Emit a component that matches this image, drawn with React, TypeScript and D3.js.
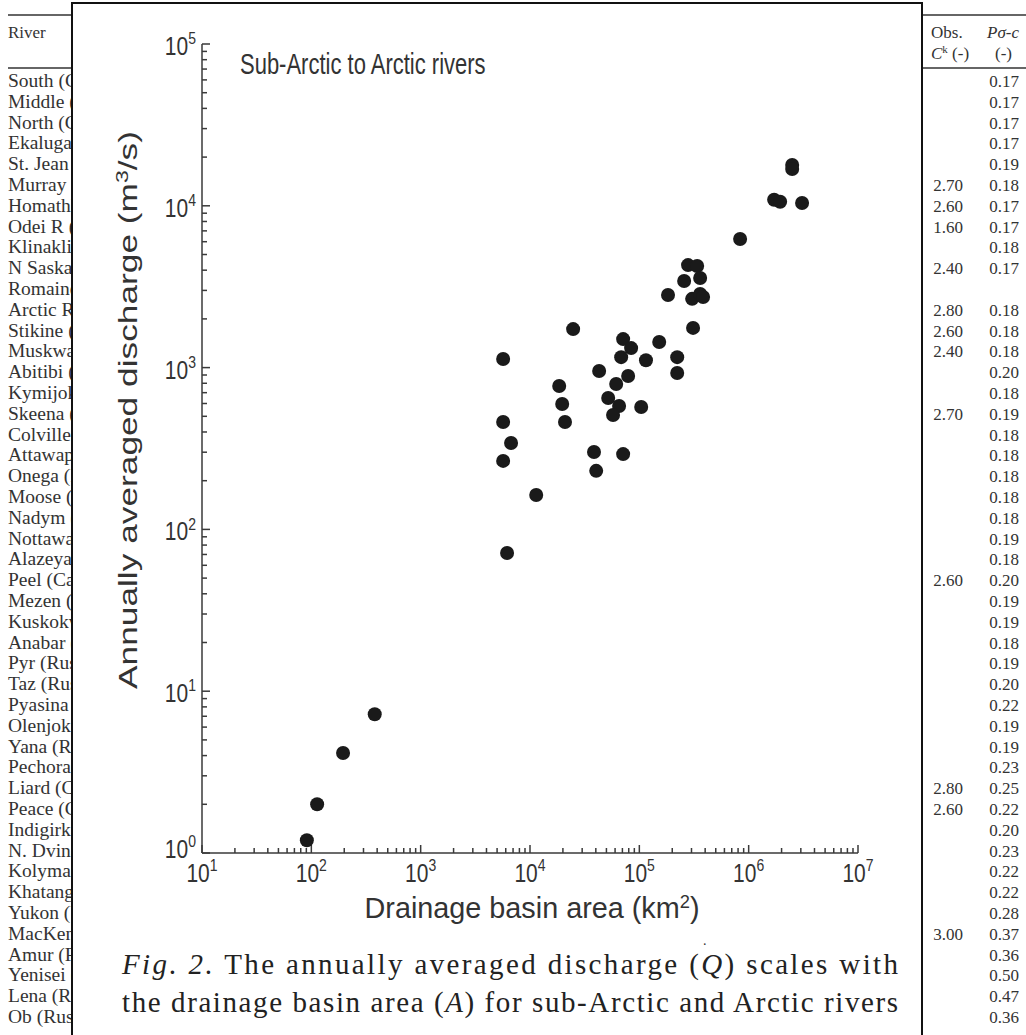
import React from "react";
import * as d3 from "d3";

// basin area (km2) and mean discharge (m3/s)
const basinArea = [
  2.5e6, 2.5e6, 1.71e6, 1.94e6, 3.08e6, 8.35e5, 2.79e5, 3.38e5, 2.57e5, 3.6e5,
  1.83e5, 3.04e5, 3.6e5, 3.83e5, 2.48e4, 3.1e5, 7.11e4, 8.41e4, 1.52e5, 5680,
  6.82e4, 1.15e5, 2.22e5, 4.29e4, 7.9e4, 2.22e5, 1.85e4, 6.14e4, 5.19e4, 6.53e4,
  1.97e4, 1.04e5, 5.75e4, 5680, 2.09e4, 6710, 3.85e4, 7.11e4, 5680, 4.03e4,
  1.14e4, 6170, 380, 195, 113, 91,
];
const discharge = [
  17900, 16900, 10900, 10600, 10400, 6240, 4300, 4250, 3430, 3580,
  2810, 2660, 2850, 2730, 1730, 1760, 1500, 1320, 1440, 1130,
  1160, 1110, 1160, 953, 887, 926, 770, 792, 649, 579,
  596, 571, 509, 461, 461, 342, 301, 292, 265, 230,
  163, 71.5, 7.2, 4.15, 2.0, 1.2,
];

// table behind the figure
const riverNames = [
  "South (Canada)", "Middle (Canada)", "North (Canada)", "Ekalugad (Canada)",
  "St. Jean (Canada)", "Murray (Canada)", "Homathko (Canada)", "Odei R (Canada)",
  "Klinaklini (Canada)", "N Saskatchewan (Canada)", "Romaine (Canada)",
  "Arctic Red (Canada)", "Stikine (Canada)", "Muskwa (Canada)", "Abitibi (Canada)",
  "Kymijoki (Finland)", "Skeena (Canada)", "Colville (USA)", "Attawapiskat (Canada)",
  "Onega (Russia)", "Moose (Canada)", "Nadym (Russia)", "Nottaway (Canada)",
  "Alazeya (Russia)", "Peel (Canada)", "Mezen (Russia)", "Kuskokwim (USA)",
  "Anabar (Russia)", "Pyr (Russia)", "Taz (Russia)", "Pyasina (Russia)",
  "Olenjok (Russia)", "Yana (Russia)", "Pechora (Russia)", "Liard (Canada)",
  "Peace (Canada)", "Indigirka (Russia)", "N. Dvina (Russia)", "Kolyma (Russia)",
  "Khatanga (Russia)", "Yukon (USA)", "MacKenzie (Canada)", "Amur (Russia)",
  "Yenisei (Russia)", "Lena (Russia)", "Ob (Russia)",
];
const obsCk = [
  "", "", "", "", "", "2.70", "2.60", "1.60", "", "2.40",
  "", "2.80", "2.60", "2.40", "", "", "2.70", "", "", "",
  "", "", "", "", "2.60", "", "", "", "", "",
  "", "", "", "", "2.80", "2.60", "", "", "", "",
  "", "3.00", "", "", "", "",
];
const pSigmaC = [
  "0.17", "0.17", "0.17", "0.17", "0.19", "0.18", "0.17", "0.17", "0.18", "0.17",
  "", "0.18", "0.18", "0.18", "0.20", "0.18", "0.19", "0.18", "0.18", "0.18",
  "0.18", "0.18", "0.19", "0.18", "0.20", "0.19", "0.19", "0.18", "0.19", "0.20",
  "0.22", "0.19", "0.19", "0.23", "0.25", "0.22", "0.20", "0.23", "0.22", "0.22",
  "0.28", "0.37", "0.36", "0.50", "0.47", "0.36",
];

const xExponents = [1, 2, 3, 4, 5, 6, 7];
const yExponents = [0, 1, 2, 3, 4, 5];

const SANS = "'Liberation Sans', Arial, Helvetica, sans-serif";
const SERIF = "'Liberation Serif', 'Times New Roman', serif";
const STRETCH = 1.3; // figure text is stretched vertically in the scan
const AXIS = "#3a3a3a";

function PowLabel({ x, y, exp, anchor }) {
  return (
    <g transform={`translate(${x},${y}) scale(1,1.2)`}>
      <text textAnchor={anchor} fontFamily={SANS} fontSize={21} fill="#333">
        10
        <tspan dy={-9} fontSize={14}>
          {exp}
        </tspan>
      </text>
    </g>
  );
}

export default function App() {
  const width = 1026;
  const height = 1035;

  const x = d3.scaleLog().domain([1e1, 1e7]).range([202, 858]);
  const y = d3.scaleLog().domain([1, 1e5]).range([853, 44]);
  const row = d3.scaleLinear().domain([0, 45]).range([87, 1023]);

  const xMinor = x.ticks().filter((d) => !xExponents.some((e) => Math.abs(d - 10 ** e) < 1e-6));
  const yMinor = y.ticks().filter((d) => !yExponents.some((e) => Math.abs(d - 10 ** e) < 1e-6));
  const [x0, x1] = x.range();
  const [y0, y1] = y.range();

  return (
    <svg
      width={width}
      height={height}
      style={{ position: "absolute", left: 0, top: 0, background: "#fff" }}
    >
      <defs>
        <clipPath id="leftcol">
          <rect x={0} y={0} width={71} height={height} />
        </clipPath>
      </defs>

      {/* table in the background */}
      <g stroke="#333" strokeWidth={1.3}>
        <line x1={8} x2={72} y1={15} y2={15} />
        <line x1={8} x2={72} y1={68} y2={68} />
        <line x1={922} x2={width} y1={15} y2={15} />
        <line x1={922} x2={width} y1={68} y2={68} />
      </g>
      <g fontFamily={SERIF} fontSize={19.5} fill="#333" clipPath="url(#leftcol)">
        <text x={8} y={38} fontSize={17}>River</text>
        {riverNames.map((name, i) => (
          <text key={name} x={8} y={row(i)}>
            {name}
          </text>
        ))}
      </g>
      <g fontFamily={SERIF} fontSize={17} fill="#333">
        <text x={931} y={38}>Obs.</text>
        <text x={931} y={59}>
          <tspan fontStyle="italic">C</tspan>
          <tspan dy={-6} fontSize={11}>k</tspan>
          <tspan dy={6}> (-)</tspan>
        </text>
        <text x={987} y={38} fontStyle="italic">Pσ-c</text>
        <text x={995} y={59}>(-)</text>
        {obsCk.map((v, i) =>
          v ? (
            <text key={`o${i}`} x={963} y={row(i)} textAnchor="end">
              {v}
            </text>
          ) : null
        )}
        {pSigmaC.map((v, i) =>
          v ? (
            <text key={`p${i}`} x={1019} y={row(i)} textAnchor="end">
              {v}
            </text>
          ) : null
        )}
      </g>

      {/* figure frame */}
      <rect x={72} y={3} width={850} height={height + 10} fill="#fff" stroke="#111" strokeWidth={2} />

      {/* axes */}
      <g stroke={AXIS} strokeWidth={1.5} fill="none">
        <line x1={x0} x2={x0} y1={y1} y2={y0} />
        <line x1={x0} x2={x1} y1={y0} y2={y0} />
        {xExponents.map((e) => (
          <line key={`xM${e}`} x1={x(10 ** e)} x2={x(10 ** e)} y1={y0} y2={y0 - 8} />
        ))}
        {xMinor.map((d) => (
          <line key={`xm${d}`} x1={x(d)} x2={x(d)} y1={y0} y2={y0 - 5} />
        ))}
        {yExponents.map((e) => (
          <line key={`yM${e}`} x1={x0} x2={x0 + 8} y1={y(10 ** e)} y2={y(10 ** e)} />
        ))}
        {yMinor.map((d) => (
          <line key={`ym${d}`} x1={x0} x2={x0 + 5} y1={y(d)} y2={y(d)} />
        ))}
      </g>
      {xExponents.map((e) => (
        <PowLabel key={`xl${e}`} x={x(10 ** e)} y={y0 + 29} exp={e} anchor="middle" />
      ))}
      {yExponents.map((e) => (
        <PowLabel
          key={`yl${e}`}
          x={x0 - 6}
          y={y(10 ** e) + (e === 0 ? 5 : 11)}
          exp={e}
          anchor="end"
        />
      ))}

      {/* data */}
      <g fill="#1a1a1a">
        {basinArea.map((a, i) => (
          <circle key={i} cx={x(a)} cy={y(discharge[i])} r={7} />
        ))}
      </g>

      {/* titles */}
      <g transform={`translate(240,74) scale(1,${STRETCH})`}>
        <text fontFamily={SANS} fontSize={22} fill="#333">
          Sub-Arctic to Arctic rivers
        </text>
      </g>
      <g transform={`translate(532,918) scale(1,${STRETCH})`}>
        <text fontFamily={SANS} fontSize={22} fill="#333" textAnchor="middle" textLength={335} lengthAdjust="spacingAndGlyphs">
          Drainage basin area (km
          <tspan dy={-8} fontSize={14}>2</tspan>
          <tspan dy={8}>)</tspan>
        </text>
      </g>
      <text
        transform="translate(137,410) rotate(-90)"
        fontFamily={SANS}
        fontSize={26}
        fill="#333"
        textAnchor="middle"
        textLength={558}
        lengthAdjust="spacingAndGlyphs"
      >
        Annually averaged discharge (m
        <tspan dy={-9} fontSize={17}>3</tspan>
        <tspan dy={9}>/s)</tspan>
      </text>
      <text x={703} y={945} fontFamily={SERIF} fontSize={14} fill="#333">.</text>

      {/* caption */}
      <g fontFamily={SERIF} fontSize={29} fill="#222">
        <text x={122} y={974} textLength={776} lengthAdjust="spacing">
          <tspan fontStyle="italic">Fig. 2.</tspan> The annually averaged discharge (
          <tspan fontStyle="italic">Q</tspan>) scales with
        </text>
        <text x={122} y={1012} textLength={776} lengthAdjust="spacing">
          the drainage basin area (<tspan fontStyle="italic">A</tspan>) for sub-Arctic and Arctic rivers
        </text>
      </g>
    </svg>
  );
}
